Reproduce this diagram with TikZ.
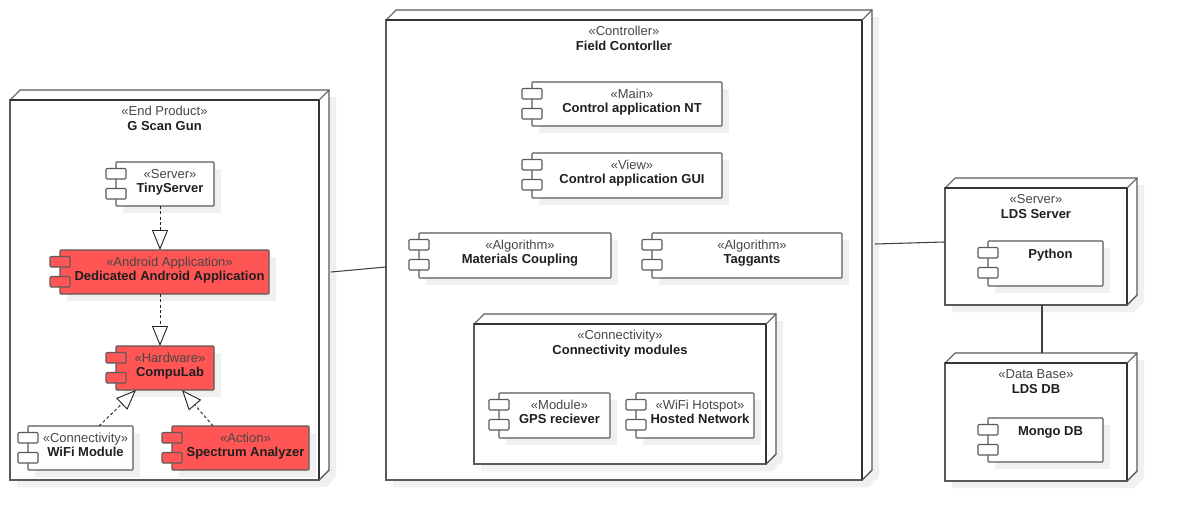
\documentclass[tikz,border=0pt]{standalone}
\usepackage{fontspec}
\setmainfont{Liberation Sans}
\usetikzlibrary{arrows.meta}
\definecolor{shadowc}{HTML}{F0F0F0}
\definecolor{redc}{HTML}{FF5555}
\definecolor{linec}{HTML}{5A5A5A}
\definecolor{darkc}{HTML}{333333}
\tikzset{
  nodebox/.style={draw=linec, line width=0.8pt, fill=white, inner sep=0pt, outer sep=0pt},
  nodeside/.style={draw=linec, line width=0.8pt, fill=white},
  nodefront/.style={draw=darkc, line width=1.3pt},
  compbox/.style={draw=linec, line width=0.8pt, inner sep=0pt, outer sep=0pt, rounded corners=0.6pt},
  portbox/.style={draw=linec, line width=0.8pt, rounded corners=0.8pt},
  stereotxt/.style={inner sep=0pt, anchor=base, text=black!72, font=\fontsize{9.75}{11}\selectfont},
  nametxt/.style={inner sep=0pt, anchor=base, text=black!88, font=\fontsize{9.75}{11}\selectfont\bfseries},
  realize/.style={draw=black!85, line width=0.7pt, dash pattern=on 2.2pt off 1.8pt,
    -{Triangle[fill=white, length=15pt, width=12pt, line width=0.7pt]}},
  assoc/.style={draw=black!75, line width=0.8pt},
}
\newcommand\umlnode[7]{%
  \fill[shadowc] (#2+7,#3+7) -- (#2+17,#3-3) -- (#4+17,#3-3) -- (#4+17,#5-3) -- (#4+7,#5+7) -- (#2+7,#5+7) -- cycle;
  \filldraw[nodeside] (#2,#3) -- (#2+10,#3-10) -- (#4+10,#3-10) -- (#4+10,#5-10) -- (#4,#5) -- cycle;
  \node[nodebox, minimum width={(#4-#2)*0.75pt}, minimum height={(#5-#3)*0.75pt}] (#1) at ({(#2+#4)/2},{(#3+#5)/2}) {};
  \draw[nodefront] (#2,#3) -- (#4,#3) -- (#4,#5);
  \draw[nodeside] (#4,#3) -- (#4+10,#3-10);
  \draw[nodeside] (#4,#5) -- (#4+10,#5-10);
  \node[stereotxt] (#1-st) at ({(#2+#4)/2},#3+15.5) {«#6»};
  \node[nametxt] (#1-nm) at ({(#2+#4)/2},#3+30) {#7};
}
\newcommand\umlcomp[8]{%
  \fill[shadowc] (#2+7,#3+7) rectangle (#4+7,#5+7);
  \node[compbox, fill=#6, minimum width={(#4-#2)*0.75pt}, minimum height={(#5-#3)*0.75pt}] (#1) at ({(#2+#4)/2},{(#3+#5)/2}) {};
  \filldraw[portbox, fill=#6] (#2-10,#3+6.5) rectangle (#2+10,#3+17);
  \filldraw[portbox, fill=#6] (#2-10,#3+26.5) rectangle (#2+10,#3+37);
  \node[stereotxt] (#1-st) at ({(#2+#4)/2+5},#3+16) {«#7»};
  \node[nametxt] (#1-nm) at ({(#2+#4)/2+5},#3+30) {#8};
}
\newcommand\umlcompplain[7]{%
  \fill[shadowc] (#2+7,#3+7) rectangle (#4+7,#5+7);
  \node[compbox, fill=#6, minimum width={(#4-#2)*0.75pt}, minimum height={(#5-#3)*0.75pt}] (#1) at ({(#2+#4)/2},{(#3+#5)/2}) {};
  \filldraw[portbox, fill=#6] (#2-10,#3+6.5) rectangle (#2+10,#3+17);
  \filldraw[portbox, fill=#6] (#2-10,#3+26.5) rectangle (#2+10,#3+37);
  \node[nametxt] (#1-nm) at ({(#2+#4)/2+5},#3+17.5) {#7};
}
\begin{document}
\begin{tikzpicture}[x=0.75pt, y=-0.75pt]
\useasboundingbox[fill=white] (0,0) rectangle (1178,522);

% G Scan Gun
\umlnode{gscan}{10}{100}{319}{480}{End Product}{G Scan Gun}
\umlcomp{tiny}{116}{162}{214}{206}{white}{Server}{TinyServer}
\umlcomp{android}{60}{250}{269}{294}{redc}{Android Application}{Dedicated Android Application}
\umlcomp{compu}{116}{346}{214}{390}{redc}{Hardware}{CompuLab}
\umlcomp{wifi}{28}{426}{133}{470}{white}{Connectivity}{WiFi Module}
\umlcomp{spectrum}{172}{426}{309}{470}{redc}{Action}{Spectrum Analyzer}

\draw[realize] ([xshift=-3.75pt]tiny.south) -- ([xshift=-3.375pt]android.north);
\draw[realize] ([xshift=-3.375pt]android.south) -- ([xshift=-3.75pt]compu.north);
\draw[realize] ([xshift=13.9pt]wifi.north) -- ([xshift=15pt]compu.south west);
\draw[realize] ([xshift=-20.6pt]spectrum.north) -- ([xshift=-24pt]compu.south east);

% Field Controller
\umlnode{field}{386}{20}{862}{480}{Controller}{Field Contorller}
\umlcomp{ctrlnt}{532}{82}{722}{126}{white}{Main}{Control application NT}
\umlcomp{ctrlgui}{532}{153}{722}{198}{white}{View}{Control application GUI}
\umlcomp{matc}{419}{233}{611}{278}{white}{Algorithm}{Materials Coupling}
\umlcomp{tagg}{652}{233}{842}{278}{white}{Algorithm}{Taggants}

\umlnode{conn}{474}{324}{766}{464}{Connectivity}{Connectivity modules}
\umlcomp{gps}{499}{393}{610}{438}{white}{Module}{GPS reciever}
\umlcomp{hosted}{636}{393}{754}{438}{white}{WiFi Hotspot}{Hosted Network}

% LDS
\umlnode{ldsserver}{945}{188}{1127}{305}{Server}{LDS Server}
\umlcompplain{python}{988}{241}{1103}{286}{white}{Python}
\umlnode{ldsdb}{945}{363}{1127}{481}{Data Base}{LDS DB}
\umlcompplain{mongo}{988}{418}{1103}{462}{white}{Mongo DB}

% associations
\draw[assoc] ([xshift=9pt, yshift=13.5pt]gscan.east) -- ([yshift=-12.75pt]field.west);
\draw[assoc] ([xshift=9.75pt, yshift=4.5pt]field.east) -- ([yshift=3.4pt]ldsserver.west);
\draw[assoc] ([xshift=4.5pt]ldsserver.south) -- ([xshift=4.5pt, yshift=7.5pt]ldsdb.north);
\end{tikzpicture}
\end{document}
